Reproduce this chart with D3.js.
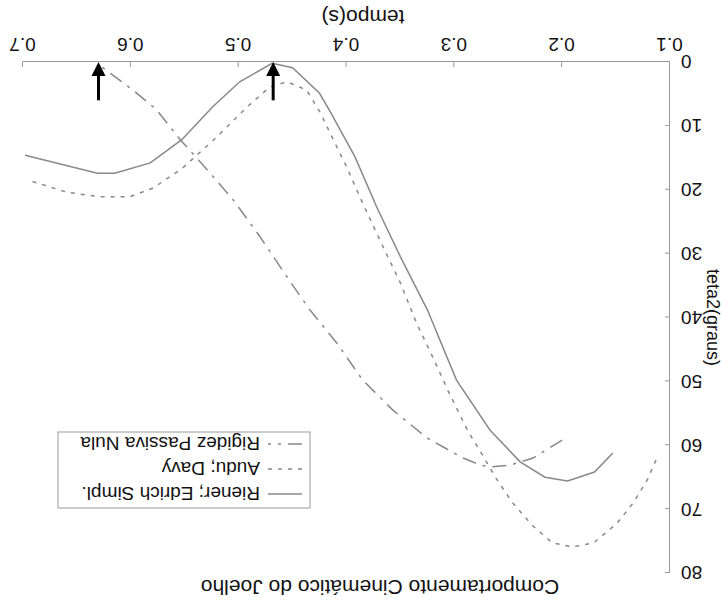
<!DOCTYPE html>
<html>
<head>
<meta charset="utf-8">
<script src="https://cdnjs.cloudflare.com/ajax/libs/d3/7.8.5/d3.min.js"></script>
<style>
	body { margin: 0; background: #fff; }
	svg { display: block; }
	.axis text { font-family: "Liberation Sans", Arial, sans-serif; font-size: 19px; fill: #111; }
	.axis path, .axis line { stroke: #999; }
	.lbl { font-family: "Liberation Sans", Arial, sans-serif; fill: #111; }
</style>
</head>
<body>
<div id="chart"></div>
<script>
// tempo(s) / teta2(graus)
var rienerX = [0.153, 0.170, 0.195, 0.216, 0.239, 0.267, 0.298, 0.325, 0.350, 0.372, 0.392, 0.415, 0.425, 0.450, 0.469, 0.499, 0.524, 0.553, 0.582, 0.615, 0.631, 0.698];
var rienerY = [61.2, 64.2, 65.6, 65.0, 62.6, 57.6, 49.8, 38.8, 30.5, 22.7, 14.9, 7.8, 4.9, 0.9, 0.2, 3.1, 7.0, 12.2, 15.8, 17.4, 17.4, 14.6];

var auduX = [0.113, 0.121, 0.134, 0.149, 0.171, 0.190, 0.209, 0.228, 0.246, 0.262, 0.274, 0.288, 0.306, 0.320, 0.335, 0.350, 0.369, 0.385, 0.400, 0.413, 0.424, 0.437, 0.455, 0.471, 0.492, 0.520, 0.552, 0.579, 0.601, 0.629, 0.659, 0.695];
var auduY = [62.3, 65.4, 69.0, 72.2, 75.3, 75.9, 75.3, 72.5, 69.0, 65.0, 61.5, 57.6, 51.4, 46.2, 40.9, 34.6, 27.9, 22.1, 16.4, 11.9, 8.0, 4.4, 3.1, 3.9, 7.0, 11.7, 16.6, 19.7, 21.1, 21.1, 20.4, 18.5];

var rigidezX = [0.200, 0.227, 0.248, 0.267, 0.276, 0.292, 0.325, 0.357, 0.385, 0.409, 0.434, 0.455, 0.480, 0.505, 0.529, 0.554, 0.576, 0.598, 0.629];
var rigidezY = [59.2, 62.0, 63.1, 63.4, 63.1, 62.0, 58.9, 54.5, 49.8, 44.0, 38.8, 33.7, 27.4, 21.6, 16.9, 12.2, 7.5, 4.4, 0.5];

var seriesNames = ["Riener; Edrich Simpl.", "Audu; Davy", "Rigidez Passiva Nula"];
var xTicks = [0.1, 0.2, 0.3, 0.4, 0.5, 0.6, 0.7];
var yTicks = [0, 10, 20, 30, 40, 50, 60, 70, 80];
var arrowX = [0.468, 0.630];

var W = 726, H = 610;

var svg = d3.select("#chart").append("svg")
	.attr("width", W)
	.attr("height", H);

// the reference is upside down, so the whole chart is turned round
var g = svg.append("g")
	.attr("transform", "rotate(180," + W / 2 + "," + H / 2 + ")");

var x = d3.scaleLinear().domain([0.1, 0.7]).range([56, 703]),
	y = d3.scaleLinear().domain([0, 80]).range([548, 37]);

g.append("g")
	.attr("class", "axis axis--x")
	.attr("transform", "translate(0," + y(0) + ")")
	.call(d3.axisBottom(x).tickValues(xTicks).tickFormat(d3.format(".1f")).tickSizeInner(-5).tickSizeOuter(0).tickPadding(11));

g.append("g")
	.attr("class", "axis axis--y")
	.attr("transform", "translate(" + x(0.1) + ",0)")
	.call(d3.axisLeft(y).tickValues(yTicks).tickSizeInner(-5).tickSizeOuter(0).tickPadding(11));

g.append("text")
	.attr("class", "lbl")
	.attr("x", 346)
	.attr("y", 30)
	.attr("text-anchor", "middle")
	.style("font-size", "21px")
	.text("Comportamento Cinemático do Joelho");

g.append("text")
	.attr("class", "lbl")
	.attr("x", 363)
	.attr("y", 600)
	.attr("text-anchor", "middle")
	.style("font-size", "21px")
	.text("tempo(s)");

g.append("text")
	.attr("class", "lbl")
	.attr("transform", "translate(19," + y(40) + ") rotate(-90)")
	.attr("text-anchor", "middle")
	.style("font-size", "18px")
	.text("teta2(graus)");

var line = d3.line()
	.x(function(d) { return x(d[0]); })
	.y(function(d) { return y(d[1]); });

var series = [
	{ name: seriesNames[0], xs: rienerX, ys: rienerY, dash: null },
	{ name: seriesNames[1], xs: auduX, ys: auduY, dash: "4,6" },
	{ name: seriesNames[2], xs: rigidezX, ys: rigidezY, dash: "14,7,3,7" }
];

series.forEach(function(s) {
	g.append("path")
		.datum(d3.zip(s.xs, s.ys))
		.attr("d", line)
		.attr("fill", "none")
		.attr("stroke", "#888")
		.attr("stroke-width", 1.5)
		.attr("stroke-dasharray", s.dash);
});

// arrows pointing down to the axis
arrowX.forEach(function(a) {
	var ax = x(a), top = y(6), tip = y(0);
	g.append("line")
		.attr("x1", ax).attr("x2", ax)
		.attr("y1", top).attr("y2", tip - 12)
		.attr("stroke", "#000")
		.attr("stroke-width", 3);
	g.append("path")
		.attr("d", "M" + (ax - 7) + "," + (tip - 14) + "L" + (ax + 7) + "," + (tip - 14) + "L" + ax + "," + tip + "Z")
		.attr("fill", "#000");
});

// legend
var lg = g.append("g").attr("transform", "translate(416,102)");
lg.append("rect")
	.attr("width", 252)
	.attr("height", 76)
	.attr("fill", "#fff")
	.attr("stroke", "#999");

series.forEach(function(s, i) {
	var ly = 14 + i * 25;
	lg.append("line")
		.attr("x1", 8).attr("x2", 42)
		.attr("y1", ly).attr("y2", ly)
		.attr("stroke", "#888")
		.attr("stroke-width", 1.5)
		.attr("stroke-dasharray", s.dash);
	lg.append("text")
		.attr("class", "lbl")
		.attr("x", 50)
		.attr("y", ly + 7)
		.style("font-size", "19px")
		.text(s.name);
});
</script>
</body>
</html>
